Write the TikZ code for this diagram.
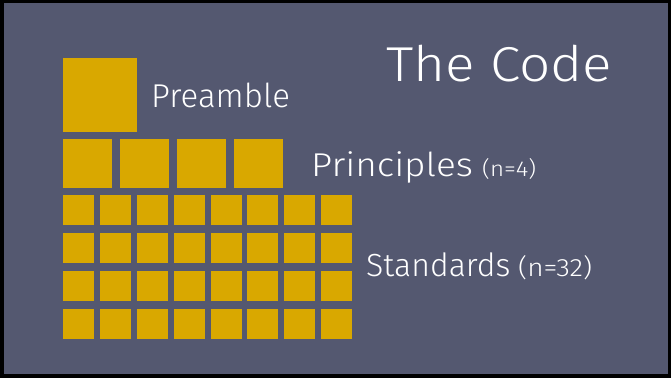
\documentclass[tikz,border=0pt]{standalone}
\usepackage{fontspec}
\setmainfont{Fira Sans Light}
\newfontfamily\widefont{Fira Sans Light}[FakeStretch=1.12]
\definecolor{slate}{RGB}{84,88,112}
\definecolor{gold}{RGB}{217,168,0}
\tikzset{
  tile/.style={fill=gold, inner sep=0pt, outer sep=0pt},
  label/.style={text=white, inner sep=0pt, anchor=base west}
}
\begin{document}
\begin{tikzpicture}[x=1pt, y=-1pt]
\fill[black] (0,0) rectangle (671,378);
\fill[slate] (4,3) rectangle (668,374);
\useasboundingbox (0,0) rectangle (671,378);
% preamble
\node[tile, minimum size=74pt] (pre) at (100,95){};
% principles
\foreach \i in {0,...,3}
  \node[tile, minimum size=49pt] (pr\i) at (87.5+57*\i,163.5){};
% standards
\foreach \j in {0,...,3}
  \foreach \i in {0,...,7}
    \node[tile, minimum width=31pt, minimum height=30pt] (st\j\i) at (78.8+36.8*\i,210+38*\j){};
% labels
\node[label, font=\widefont\fontsize{49}{49}\selectfont] (title) at (386,81.7){The Code};
\node[label, font=\fontsize{33}{33}\selectfont] (lpre) at (151,107.3){Preamble};
\node[label, font=\widefont\fontsize{33}{33}\selectfont] (lpr) at (311,176){Principles};
\node[label, font=\widefont\fontsize{21.5}{21.5}\selectfont] (npr) at (482,176){(n=4)};
\node[label, font=\fontsize{32}{32}\selectfont] (lst) at (366,276){Standards};
\node[label, font=\widefont\fontsize{25}{25}\selectfont] (nst) at (518,276){(n=32)};
\end{tikzpicture}
\end{document}
